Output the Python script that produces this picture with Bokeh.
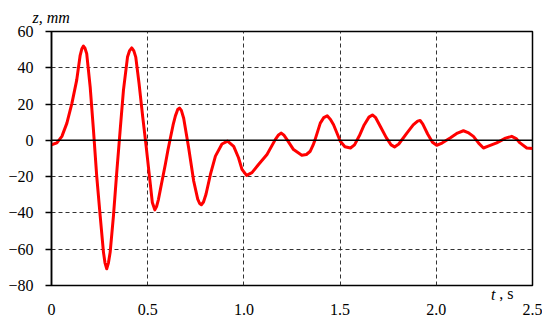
from bokeh.plotting import figure
from bokeh.models import Range1d, FixedTicker, Span, Title
from bokeh.embed import file_html
from bokeh.resources import INLINE

# time (s) and displacement (mm)
t = [0.000, 0.028, 0.054, 0.080, 0.106, 0.131, 0.149, 0.158, 0.166, 0.174, 0.183,
     0.201, 0.218, 0.235, 0.253, 0.270, 0.278, 0.287, 0.296, 0.305, 0.322, 0.339,
     0.357, 0.374, 0.395, 0.406, 0.417, 0.428, 0.438, 0.455, 0.474, 0.492, 0.509,
     0.524, 0.537, 0.546, 0.556, 0.566, 0.580, 0.592, 0.605, 0.618, 0.632, 0.644,
     0.656, 0.665, 0.675, 0.687, 0.713, 0.739, 0.760, 0.770, 0.779, 0.790, 0.803,
     0.826, 0.852, 0.886, 0.915, 0.947, 0.972, 0.990, 1.014, 1.042, 1.076, 1.120,
     1.163, 1.180, 1.193, 1.207, 1.224, 1.258, 1.301, 1.325, 1.345, 1.360, 1.370,
     1.397, 1.415, 1.433, 1.450, 1.466, 1.501, 1.525, 1.554, 1.575, 1.600, 1.625,
     1.650, 1.668, 1.685, 1.710, 1.740, 1.765, 1.783, 1.805, 1.847, 1.880, 1.903,
     1.916, 1.930, 1.955, 1.980, 2.002, 2.030, 2.072, 2.110, 2.141, 2.165, 2.193,
     2.220, 2.245, 2.270, 2.314, 2.360, 2.392, 2.415, 2.435, 2.470, 2.500]
z = [-2.4, -1.4, 2.2, 9.5, 20.4, 33.2, 46.9, 50.5, 52.0, 50.8, 47.8,
     29.5, 5.8, -19.7, -41.6, -61.6, -67.5, -70.8, -67.5, -61.6, -41.6, -17.8,
     5.8, 27.7, 45.9, 49.5, 51.0, 49.3, 45.9, 31.4, 13.1, -3.3, -19.7,
     -34.2, -38.3, -36.5, -32.5, -27.0, -19.5, -13.0, -5.5, 1.3, 8.5, 13.5,
     17.0, 17.8, 16.5, 12.2, -4.2, -22.4, -32.4, -34.8, -35.5, -34.0, -29.7,
     -18.8, -8.7, -2.0, -0.4, -3.3, -9.6, -16.0, -19.3, -17.8, -13.3, -7.8,
     0.4, 3.0, 4.0, 3.0, 0.4, -5.1, -8.2, -7.8, -6.0, -2.5, 0.4,
     9.5, 12.5, 13.5, 11.5, 8.6, -0.5, -3.5, -4.2, -2.5, 2.5, 8.5,
     12.8, 14.0, 12.5, 7.5, 1.5, -2.5, -3.6, -2.0, 4.0, 8.5, 10.6,
     11.0, 9.0, 3.5, -1.0, -2.7, -1.5, 1.3, 4.0, 5.3, 4.3, 2.2,
     -1.5, -4.2, -3.2, -1.4, 1.2, 2.2, 1.0, -1.4, -4.2, -4.5]

x_ticks = [0, 0.5, 1.0, 1.5, 2.0, 2.5]
x_tick_labels = ["0", "0.5", "1.0", "1.5", "2.0", "2.5"]
y_ticks = [-80, -60, -40, -20, 0, 20, 40, 60]
y_tick_labels = ["\u221280", "\u221260", "\u221240", "\u221220", "0", "20", "40", "60"]

FONT = "Liberation Serif"
FS = "16px"

p = figure(width=542, height=317, output_backend="svg", toolbar_location=None,
           x_range=Range1d(0, 2.5), y_range=Range1d(-80, 60),
           min_border_left=51, min_border_right=10, min_border_top=31, min_border_bottom=30)
p.background_fill_color = "white"
p.border_fill_color = "white"
p.outline_line_color = "black"
p.outline_line_width = 1.5

# grids
p.xgrid.ticker = FixedTicker(ticks=[0.5, 1.0, 1.5, 2.0])
p.ygrid.ticker = FixedTicker(ticks=[-60, -40, -20, 20, 40])
for g in (p.xgrid, p.ygrid):
    g.grid_line_color = "#333333"
    g.grid_line_dash = "4 3"
    g.grid_line_width = 1

p.add_layout(Span(location=0, dimension="width", line_color="black", line_width=1.5))

# axes
xaxis = p.xaxis[0]
yaxis = p.yaxis[0]
xaxis.ticker = FixedTicker(ticks=x_ticks)
xaxis.major_label_overrides = dict(zip(x_ticks, x_tick_labels))
yaxis.ticker = FixedTicker(ticks=y_ticks)
yaxis.major_label_overrides = dict(zip(y_ticks, y_tick_labels))
for ax in (xaxis, yaxis):
    ax.minor_tick_line_color = None
    ax.major_label_text_font = FONT
    ax.major_label_text_font_size = FS
    ax.major_label_text_color = "black"
xaxis.axis_line_color = None
xaxis.major_tick_line_color = None
xaxis.major_tick_out = 0
xaxis.major_tick_in = 0
xaxis.major_label_standoff = 2
yaxis.axis_line_color = "black"
yaxis.axis_line_width = 1.5
yaxis.major_tick_line_color = "black"
yaxis.major_tick_line_width = 1.5
yaxis.major_tick_out = 6
yaxis.major_tick_in = 0
yaxis.major_label_standoff = 12

p.line(t, z, line_color="#ff0000", line_width=3, line_join="round")

# axis titles
p.title.text = "z, mm"
p.title.text_font = FONT
p.title.text_font_size = FS
p.title.text_font_style = "italic"
p.title.text_color = "black"
p.title.align = "left"
p.title.offset = -19
p.title.standoff = 11
p.title.vertical_align = "bottom"

t_title = Title(text="t", text_font=FONT, text_font_size=FS, text_font_style="italic",
                text_color="black", align="right", offset=37, standoff=-3,
                vertical_align="bottom")
s_title = Title(text=", s", text_font=FONT, text_font_size=FS, text_font_style="normal",
                text_color="black", align="right", offset=19, standoff=-65,
                vertical_align="top")
p.below = [t_title, xaxis, s_title]

open("out.html", "w").write(file_html(p, INLINE))
